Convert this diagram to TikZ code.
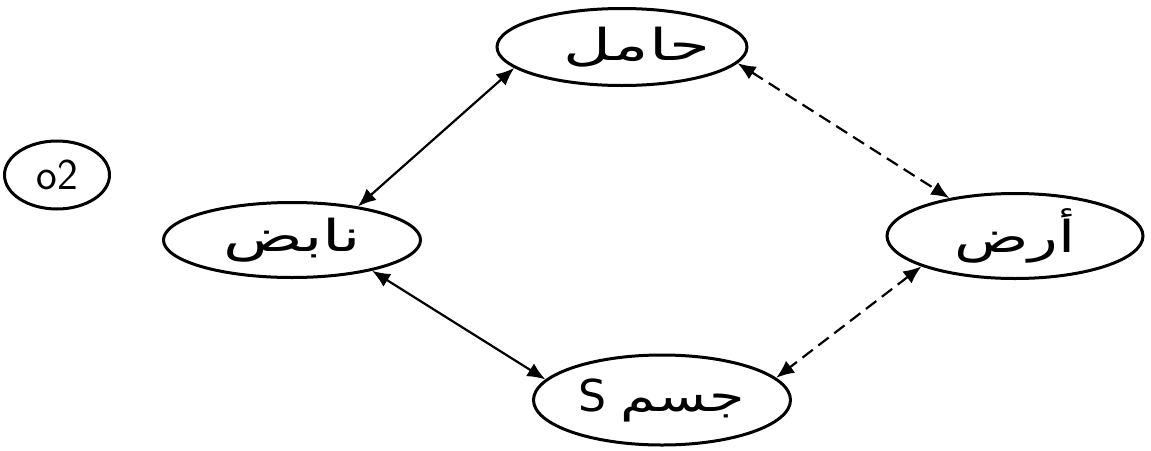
\documentclass[tikz,border=0pt]{standalone}
\usepackage{fontspec}
\newfontfamily\arabicfont[Script=Arabic]{DejaVu Sans}
\TeXXeTstate=1
\usetikzlibrary{shapes.geometric,arrows.meta}
\tikzset{
  oval/.style={ellipse, draw, line width=3pt, inner sep=0pt, font=\arabicfont\fontsize{44}{50}\selectfont},
  link/.style={line width=2.2pt, {Latex[length=18pt,width=15pt]}-{Latex[length=18pt,width=15pt]}},
  dlink/.style={link, dash pattern=on 13pt off 7pt},
}
\begin{document}
\begin{tikzpicture}[x=1pt,y=-1pt]
\useasboundingbox (0,0) rectangle (1151,450);
\node[oval, minimum width=250pt, minimum height=77pt] (top) at (622,47) {\hspace{30pt}\scalebox{1.5}[1]{\beginR حامل\endR}};
\node[oval, minimum width=257pt, minimum height=75pt] (left) at (292,240) {\scalebox{1.5}[1]{\beginR نابض\endR}};
\node[oval, minimum width=256pt, minimum height=85pt] (right) at (1015,236) {\scalebox{1.4}[1]{\beginR أرض\endR}};
\node[oval, minimum width=257pt, minimum height=90pt] (bot) at (662,400) {S\hspace{14pt}\scalebox{1.3}[1]{\beginR جسم\endR}};
\node[oval, minimum width=105pt, minimum height=68pt, font=\sffamily\fontsize{44}{48}\selectfont] (num) at (57,175) {o2};
\draw[link] (top.191) -- (left.27);
\draw[dlink] (top.352) -- (right.150);
\draw[link] (left.339) -- (bot.170);
\draw[dlink] (right.198) -- (bot.11);
\end{tikzpicture}
\end{document}
